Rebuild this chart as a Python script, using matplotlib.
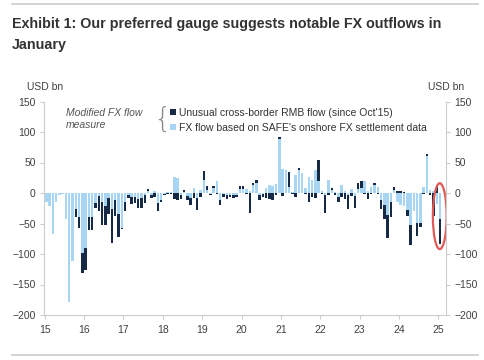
import matplotlib.pyplot as plt
from matplotlib.patches import Ellipse
import numpy as np

plt.rcParams['font.family'] = ['Liberation Sans', 'DejaVu Sans']

year_labels = ["15", "16", "17", "18", "19", "20", "21", "22", "23", "24", "25"]

# FX flow based on SAFE's onshore FX settlement data, USD bn, Jan 2015 - Jan 2025
fx_settlement = [
    -14, -21, -67, -15, -4, -2, -43, -178, -112, -26, -39, -98,   # 2015
    -90, -40, -40, -16, -5, -14, -22, -8, -27, -11, -35, -57,     # 2016
    -15, -3, -7, -6, -10, -9, -3, 3, -3, 4, -17, -12,             # 2017
    -2, 2, 1, 26, 24, -3, 2, -5, -9, 8, -9, 5,                    # 2018
    21, 5, -1, 8, 19, -11, -2, -4, -3, -4, -3, 6,                 # 2019
    6, 6, 3, 13, 16, -3, -2, 8, 13, 11, 15, 88,                   # 2020
    39, 38, 10, 2, 30, 38, 32, 8, 27, 22, 38, 20,                 # 2021
    3, -3, 21, 5, 2, -6, 13, 4, -3, 6, -5, 7,                     # 2022
    8, 20, 4, 10, 13, 10, -11, -20, -36, -14, 5, -15,             # 2023
    -20, -22, -28, -52, -30, -49, -49, 10, 60, 5, 4, -18,         # 2024
    -42,                                                          # 2025
]

# Unusual cross-border RMB flow (since Oct'15), USD bn
unusual_rmb = [
    0, 0, 0, 0, 0, 0, 0, 0, 0, -13, -19, -33,                     # 2015
    -37, -21, -21, -8, -25, -38, -30, -27, -55, -27, -37, -2,     # 2016
    -14, -5, -11, -10, -14, -15, -13, 4, -5, -6, -12, -2,         # 2017
    -1, -1, -2, -10, -11, -7, 3, -6, -11, -8, -19, -6,            # 2018
    15, 6, -3, 3, -2, -9, -5, -6, -4, -4, -3, 5,                  # 2019
    5, -2, -32, 3, 5, -8, -5, -8, -10, -12, -3, 4,                # 2020
    -5, 0, 25, -2, -6, 3, 0, -2, -14, -6, -8, 34,                 # 2021
    -2, -30, -3, 4, -3, -8, -7, -10, -24, -5, -20, 9,             # 2022
    11, -2, -10, -2, 4, -2, -15, -23, -38, -25, 5, 3,             # 2023
    4, 2, -10, -34, 0, -21, -7, -2, 4, -3, -38, 13,               # 2024
    -41,                                                          # 2025
]

light = np.array(fx_settlement, dtype=float)
dark = np.array(unusual_rmb, dtype=float)
x = np.arange(len(light)) + 0.5
# stack same-sign values, opposite-sign values start from zero
dark_bottom = np.where(np.sign(dark) == np.sign(light), light, 0)

light_col = "#a7d5f2"
dark_col = "#172a45"
axis_col = "#cccccc"
text_col = "#404040"

fig = plt.figure(figsize=(4.85, 3.6), dpi=100)
ax = fig.add_axes([44 / 485, 1 - 315 / 360, 402 / 485, 213.5 / 360])

b1 = ax.bar(x, dark, bottom=dark_bottom, width=0.75, color=dark_col, linewidth=0)
b2 = ax.bar(x, light, width=0.75, color=light_col, linewidth=0)

ax.set_ylim(-200, 150)
ax.set_xlim(-0.2, 122.3)
ax.set_yticks(range(-200, 151, 50))
ax.set_xticks(range(0, 121, 12))
ax.set_xticklabels(year_labels)
ax.tick_params(axis="y", which="both", left=True, right=True, labelleft=True,
               labelright=True, labelsize=7.5, colors=axis_col, labelcolor=text_col,
               length=3, direction="out", pad=3)
ax.tick_params(axis="x", labelsize=7.5, colors=axis_col, labelcolor=text_col,
               length=3, direction="out", pad=4)
for side in ["left", "right", "bottom"]:
    ax.spines[side].set_color(axis_col)
    ax.spines[side].set_linewidth(0.8)
ax.spines["top"].set_visible(False)

# highlight on the latest month
ax.add_patch(Ellipse((120.4, -38), 4.2, 108, fill=False, edgecolor="#e05a5a", linewidth=1.6))

leg = fig.legend([b1, b2],
                 ["Unusual cross-border RMB flow (since Oct'15)",
                  "FX flow based on SAFE's onshore FX settlement data"],
                 loc="upper left", bbox_to_anchor=(170 / 485, 1 - 108 / 360),
                 frameon=False, fontsize=7.5, handlelength=0.55, handleheight=0.55,
                 handletextpad=0.3, labelspacing=0.45, borderaxespad=0, borderpad=0)
for t in leg.get_texts():
    t.set_color("#333333")

fig.text(66 / 485, 1 - 119 / 360, "Modified FX flow\nmeasure", fontsize=7.5, style="italic",
         color="#555555", va="center", linespacing=1.15)
fig.text(153 / 485, 1 - 120 / 360, "{", fontsize=20, color="#888888", va="center",
         family="DejaVu Sans", fontweight="light")

fig.text(27 / 485, 1 - 87 / 360, "USD bn", fontsize=7.5, color=text_col, va="center")
fig.text(428 / 485, 1 - 87 / 360, "USD bn", fontsize=7.5, color=text_col, va="center")

title1 = fig.text(12 / 485, 1 - 24 / 360,
                  "Exhibit 1: Our preferred gauge suggests notable FX outflows in",
                  fontsize=12, fontweight="bold", color="#333333", va="center")
title2 = fig.text(12 / 485, 1 - 45 / 360, "January",
                  fontsize=12, fontweight="bold", color="#333333", va="center")

# shrink title so its first line spans about the same width as the reference
renderer = fig.canvas.get_renderer()
w = title1.get_window_extent(renderer).width
size = 12 * 428 / w
title1.set_fontsize(size)
title2.set_fontsize(size)

fig.add_artist(plt.Line2D([12 / 485, 478 / 485], [1 - 4 / 360, 1 - 4 / 360], color="#cccccc", linewidth=1.2))
fig.add_artist(plt.Line2D([12 / 485, 478 / 485], [1 - 355 / 360, 1 - 355 / 360], color="#cccccc", linewidth=1.2))

fig.savefig("out.png", dpi=100)
